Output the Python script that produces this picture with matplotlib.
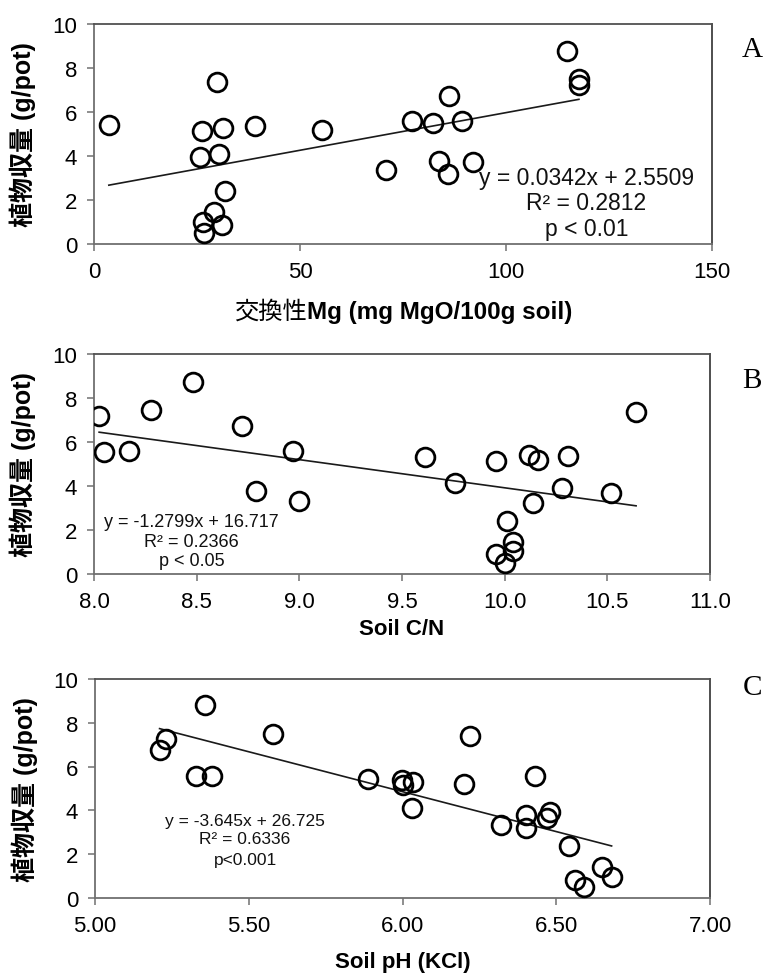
import matplotlib
matplotlib.use('Agg')
import matplotlib.pyplot as plt
import numpy as np

plt.rcParams['font.family'] = ['Liberation Sans', 'Noto Sans CJK JP', 'DejaVu Sans']

# ---------------- data ----------------
mg_x = [3.6, 26.3, 31.3, 29.9, 39.1, 55.3, 25.7, 30.4, 31.9, 29.1, 26.5, 31.1,
        26.8, 70.9, 77.2, 82.4, 86.1, 89.3, 83.7, 85.9, 91.9, 114.8, 117.7, 117.7]
mg_y = [5.42, 5.14, 5.29, 7.36, 5.36, 5.20, 3.94, 4.11, 2.40, 1.47, 1.01, 0.86,
        0.48, 3.35, 5.57, 5.51, 6.71, 5.59, 3.76, 3.17, 3.73, 8.76, 7.51, 7.21]

cn_x = [8.025, 8.05, 8.17, 8.28, 8.48, 8.72, 8.79, 8.97, 9.00, 9.61, 9.76, 9.96,
        10.12, 10.16, 10.31, 10.28, 10.52, 10.14, 10.64, 10.01, 10.04, 10.04, 9.96, 10.00]
cn_y = [7.18, 5.54, 5.57, 7.45, 8.75, 6.71, 3.76, 5.57, 3.32, 5.30, 4.12, 5.14,
        5.42, 5.20, 5.36, 3.90, 3.70, 3.22, 7.36, 2.40, 1.47, 1.04, 0.91, 0.48]

ph_x = [5.358, 5.23, 5.21, 5.578, 5.328, 5.379, 5.889, 5.999, 6.00, 6.035, 6.03, 6.22,
        6.20, 6.43, 6.32, 6.40, 6.40, 6.47, 6.48, 6.54, 6.65, 6.68, 6.56, 6.59]
ph_y = [8.80, 7.26, 6.76, 7.50, 5.57, 5.57, 5.42, 5.39, 5.18, 5.28, 4.11, 7.41,
        5.19, 5.57, 3.32, 3.77, 3.18, 3.65, 3.91, 2.39, 1.40, 0.94, 0.84, 0.52]

fits = [(0.0342, 2.5509), (-1.2799, 16.717), (-3.645, 26.725)]
eq_texts = [["y = 0.0342x + 2.5509", "R² = 0.2812", "p < 0.01"],
            ["y = -1.2799x + 16.717", "R² = 0.2366", "p < 0.05"],
            ["y = -3.645x + 26.725", "R² = 0.6336", "p<0.001"]]
x_ticks = [[0, 50, 100, 150], [8.0, 8.5, 9.0, 9.5, 10.0, 10.5, 11.0],
           [5.00, 5.50, 6.00, 6.50, 7.00]]
x_fmt = ["{:.0f}", "{:.1f}", "{:.2f}"]
y_ticks = [0, 2, 4, 6, 8, 10]
panel_labels = ["A", "B", "C"]
ylabel = "植物収量 (g/pot)"

# ---------------- layout ----------------
W, H = 766, 979
fig = plt.figure(figsize=(W / 100, H / 100), dpi=100)

rects = [(94, 712, 25, 245), (94, 710, 355, 575), (95, 710, 680, 899)]
eq_pos = [(0.797, [0.303, 0.19, 0.072], 16.5),
          (0.158, [0.24, 0.149, 0.063], 13),
          (0.244, [0.352, 0.27, 0.178], 12.5)]
lab_pos = [(752, 50), (752, 381), (752, 688)]
xlab_y = [-0.305, -0.25, -0.292]

datasets = [(mg_x, mg_y), (cn_x, cn_y), (ph_x, ph_y)]
axes = []
spine_col = '#707070'
for i, (l, r, t, b) in enumerate(rects):
    ax = fig.add_axes([l / W, 1 - b / H, (r - l) / W, (b - t) / H])
    axes.append(ax)
    xs, ys = datasets[i]
    ax.plot(xs, ys, linestyle='none', marker='o', markersize=13.5,
            markerfacecolor='none', markeredgecolor='black', markeredgewidth=2.0,
            zorder=3)
    slope, icpt = fits[i]
    xx = np.array([min(xs), max(xs)])
    ax.plot(xx, slope * xx + icpt, color='#1a1a1a', lw=1.2, zorder=2)
    ax.set_xlim(x_ticks[i][0], x_ticks[i][-1])
    ax.set_ylim(0, 10)
    ax.set_xticks(x_ticks[i])
    ax.set_xticklabels([x_fmt[i].format(v) for v in x_ticks[i]])
    ax.set_yticks(y_ticks)
    ax.set_yticklabels([str(v) for v in y_ticks])
    ax.tick_params(direction='out', length=5, width=1.1, color=spine_col,
                   labelsize=16, pad=7)
    for s in ax.spines.values():
        s.set_color(spine_col)
        s.set_linewidth(1.3)
    ax.spines['right'].set_color('#404040')
    ax.spines['top'].set_color('#505050')
    ax.set_ylabel(ylabel, fontsize=18, fontweight='bold')
    ax.yaxis.set_label_coords(-0.115, 0.5)
    ax.yaxis.label.set_va('center')
    ex, eys, efs = eq_pos[i]
    for txt, ey in zip(eq_texts[i], eys):
        ax.text(ex, ey, txt, transform=ax.transAxes, ha='center', va='center',
                fontsize=efs, color='#111111')
    px, py = lab_pos[i]
    fig.text(px / W, 1 - py / H, panel_labels[i], ha='center', va='center',
             fontsize=21, family='Liberation Serif')

# x labels
axes[1].set_xlabel("Soil C/N", fontsize=16, fontweight='bold')
axes[1].xaxis.set_label_coords(0.5, xlab_y[1])
axes[1].xaxis.label.set_va('center')
axes[2].set_xlabel("Soil pH (KCl)", fontsize=16, fontweight='bold')
axes[2].xaxis.set_label_coords(0.5, xlab_y[2])
axes[2].xaxis.label.set_va('center')

# two-part x label for panel A
axA = axes[0]
t1 = axA.text(0.5, xlab_y[0], "交換性", transform=axA.transAxes, ha='right',
              va='center', fontsize=17.5, family='Noto Sans CJK JP', fontweight='normal')
t2 = axA.text(0.5, xlab_y[0], "Mg (mg MgO/100g soil)", transform=axA.transAxes,
              ha='left', va='center', fontsize=17.5, fontweight='bold')
fig.canvas.draw()
rend = fig.canvas.get_renderer()
w1 = t1.get_window_extent(rend).width
w2 = t2.get_window_extent(rend).width
cx = axA.transAxes.transform((0.5, 0))[0]
split_px = cx - (w1 + w2) / 2 + w1
split_ax = axA.transAxes.inverted().transform((split_px, 0))[0]
t1.set_x(split_ax)
t2.set_x(split_ax)

fig.savefig('out.png', dpi=100)
